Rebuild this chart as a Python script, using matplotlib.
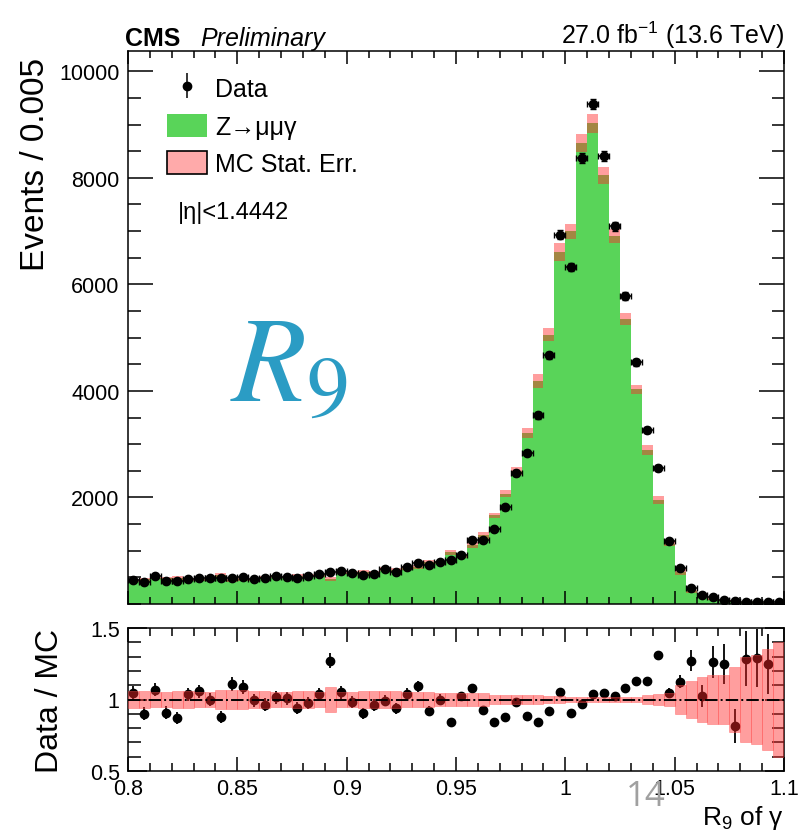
import numpy as np
import matplotlib.pyplot as plt
from matplotlib.patches import Patch
from matplotlib.ticker import MultipleLocator, FixedLocator, FuncFormatter

plt.rcParams['font.family'] = ['Liberation Sans', 'DejaVu Sans']
plt.rcParams['mathtext.fontset'] = 'custom'
plt.rcParams['mathtext.rm'] = 'Liberation Sans'
plt.rcParams['mathtext.it'] = 'Liberation Sans:italic'
plt.rcParams['axes.linewidth'] = 1.1

# R9 binning: 60 bins of 0.005 from 0.8 to 1.1
bin_lo, bin_hi, n_bins = 0.8, 1.1, 60

data_counts = [455, 417, 519, 436, 423, 470, 490, 481, 481, 494,
               505, 462, 487, 520, 513, 494, 520, 556, 594, 620,
               575, 544, 562, 650, 594, 700, 762, 731, 780, 817,
               915, 1194, 1194, 1400, 1816, 2457, 2843, 3539, 4667, 6934,
               6322, 8370, 9381, 8402, 7088, 5774, 4538, 3262, 2554, 1188,
               673, 300, 177, 126, 80, 48, 45, 40, 35, 30]

mc_counts = [436, 463, 486, 480, 487, 454, 464, 481, 549, 446,
             465, 465, 505, 512, 509, 526, 534, 536, 467, 591,
             584, 602, 584, 656, 633, 672, 698, 792, 780, 971,
             896, 1107, 1287, 1665, 2073, 2492, 3209, 4183, 5056, 6610,
             6993, 8656, 9020, 8048, 6908, 5351, 4030, 2897, 1948, 1133,
             598, 236, 173, 100, 64, 59, 35, 31, 28, 15]

# relative MC statistical uncertainty per bin
mc_relerr = [0.062, 0.056, 0.05, 0.05, 0.062, 0.062, 0.05, 0.05, 0.066, 0.068,
             0.068, 0.058, 0.058, 0.05, 0.05, 0.058, 0.058, 0.05, 0.09, 0.055,
             0.055, 0.058, 0.058, 0.058, 0.058, 0.052, 0.052, 0.052, 0.045, 0.045,
             0.045, 0.045, 0.045, 0.03, 0.03, 0.03, 0.03, 0.03, 0.025, 0.025,
             0.02, 0.02, 0.02, 0.02, 0.02, 0.02, 0.02, 0.033, 0.038, 0.045,
             0.1, 0.13, 0.16, 0.17, 0.17, 0.23, 0.3, 0.31, 0.35, 0.4]

edges = np.linspace(bin_lo, bin_hi, n_bins + 1)
centers = 0.5 * (edges[:-1] + edges[1:])
width = edges[1] - edges[0]
data = np.array(data_counts, dtype=float)
mc = np.array(mc_counts, dtype=float)
relerr = np.array(mc_relerr)
mc_err = mc * relerr
ratio = data / mc
ratio_err = np.sqrt(data) / mc

green = '#59d459'
band = '#ff2828'

fig = plt.figure(figsize=(8.02, 8.37), dpi=100)
ax = fig.add_axes([128/802, 1 - 605/837, 656/802, 553/837])
rax = fig.add_axes([128/802, 1 - 772/837, 656/802, 143/837])

# upper panel: MC histogram, stat band, data
ax.stairs(mc, edges, fill=True, color=green, zorder=1)
ax.stairs(mc + mc_err, edges, baseline=mc - mc_err, fill=True,
          color=band, alpha=0.45, lw=0, zorder=2)
ax.errorbar(centers, data, yerr=np.sqrt(data), xerr=width / 2, fmt='o',
            color='black', ms=6, elinewidth=1.1, capsize=2, zorder=3)

ax.set_xlim(bin_lo, bin_hi)
ax.set_ylim(0, 10380)
ax.yaxis.set_major_locator(FixedLocator([2000, 4000, 6000, 8000, 10000]))
ax.yaxis.set_minor_locator(MultipleLocator(500))
ax.xaxis.set_major_locator(MultipleLocator(0.05))
ax.xaxis.set_minor_locator(MultipleLocator(0.01))
ax.tick_params(which='both', direction='in', top=True, right=True,
               labelbottom=False, labelsize=15.5, width=1.1)
ax.tick_params(axis='y', which='major', length=18, pad=6)
ax.tick_params(axis='y', which='minor', length=9)
ax.tick_params(axis='x', which='major', length=9.5)
ax.tick_params(axis='x', which='minor', length=5)

data_proxy = ax.errorbar([], [], yerr=[], fmt='o', color='black', ms=6,
                         elinewidth=1.1, capsize=3)
handles = [data_proxy,
           Patch(facecolor=green, edgecolor='none'),
           Patch(facecolor='#ffaaaa', edgecolor='black', lw=1.2)]
labels = ['Data', 'Z→μμγ', 'MC Stat. Err.']
ax.legend(handles, labels, loc='upper left', bbox_to_anchor=(0.06, 0.955),
          frameon=False, fontsize=18, handlelength=1.6, handleheight=1.05,
          labelspacing=0.5, handletextpad=0.3, borderaxespad=0,
          borderpad=0)
ax.text(0.076, 0.709, '|η|<1.4442', transform=ax.transAxes,
        fontsize=17, va='center', ha='left')
ax.text(0.155, 0.37, r'$R_9$', transform=ax.transAxes, fontsize=88,
        color='#2b9cc4', math_fontfamily='stix', ha='left', va='baseline')

# lower panel: data / MC ratio
rax.bar(centers, 2 * relerr, bottom=1 - relerr, width=width,
        color=band, alpha=0.45, edgecolor='#ff5050', lw=0.6, zorder=3)
rax.errorbar(centers, ratio, yerr=ratio_err, fmt='o', color='black', ms=6,
             elinewidth=1.3, capsize=0, zorder=2)
rax.axhline(1.0, color='black', ls='-.', lw=1.4, zorder=4)

rax.set_xlim(bin_lo, bin_hi)
rax.set_ylim(0.5, 1.5)
rax.yaxis.set_major_locator(FixedLocator([0.5, 1.0, 1.5]))
rax.yaxis.set_minor_locator(MultipleLocator(0.1))
rax.xaxis.set_major_locator(MultipleLocator(0.05))
rax.xaxis.set_minor_locator(MultipleLocator(0.01))
fmt = FuncFormatter(lambda v, pos: f'{v:g}')
rax.xaxis.set_major_formatter(fmt)
rax.yaxis.set_major_formatter(fmt)
rax.tick_params(which='both', direction='in', top=True, right=True,
                labelsize=15.5, width=1.1)
rax.tick_params(axis='y', which='major', length=14, pad=6)
rax.tick_params(axis='y', which='minor', length=9)
rax.tick_params(axis='x', which='major', length=10, pad=5)
rax.tick_params(axis='x', which='minor', length=6)

# axis titles and header
fig.text(36/802, 1 - 58/837, 'Events / 0.005', rotation=90, ha='center',
         va='top', fontsize=24)
fig.text(50/802, 1 - 701/837, 'Data / MC', rotation=90, ha='center',
         va='center', fontsize=23)
fig.text(784/802, 1 - 818/837, 'R$_9$ of γ', ha='right', va='center',
         fontsize=19)
fig.text(125/802, 1 - 46/837, 'CMS', fontweight='bold', fontsize=18,
         va='baseline')
fig.text(200/802, 1 - 46/837, 'Preliminary', fontstyle='italic', fontsize=18,
         va='baseline')
fig.text(784/802, 1 - 44/837, '27.0 fb$^{-1}$ (13.6 TeV)', ha='right',
         fontsize=18, va='baseline')
fig.text(646/802, 1 - 797/837, '14', color='#a0a0a0', fontsize=25,
         ha='center', va='center', family=['Open Sans', 'DejaVu Sans'])

fig.savefig('out.png', dpi=100)
